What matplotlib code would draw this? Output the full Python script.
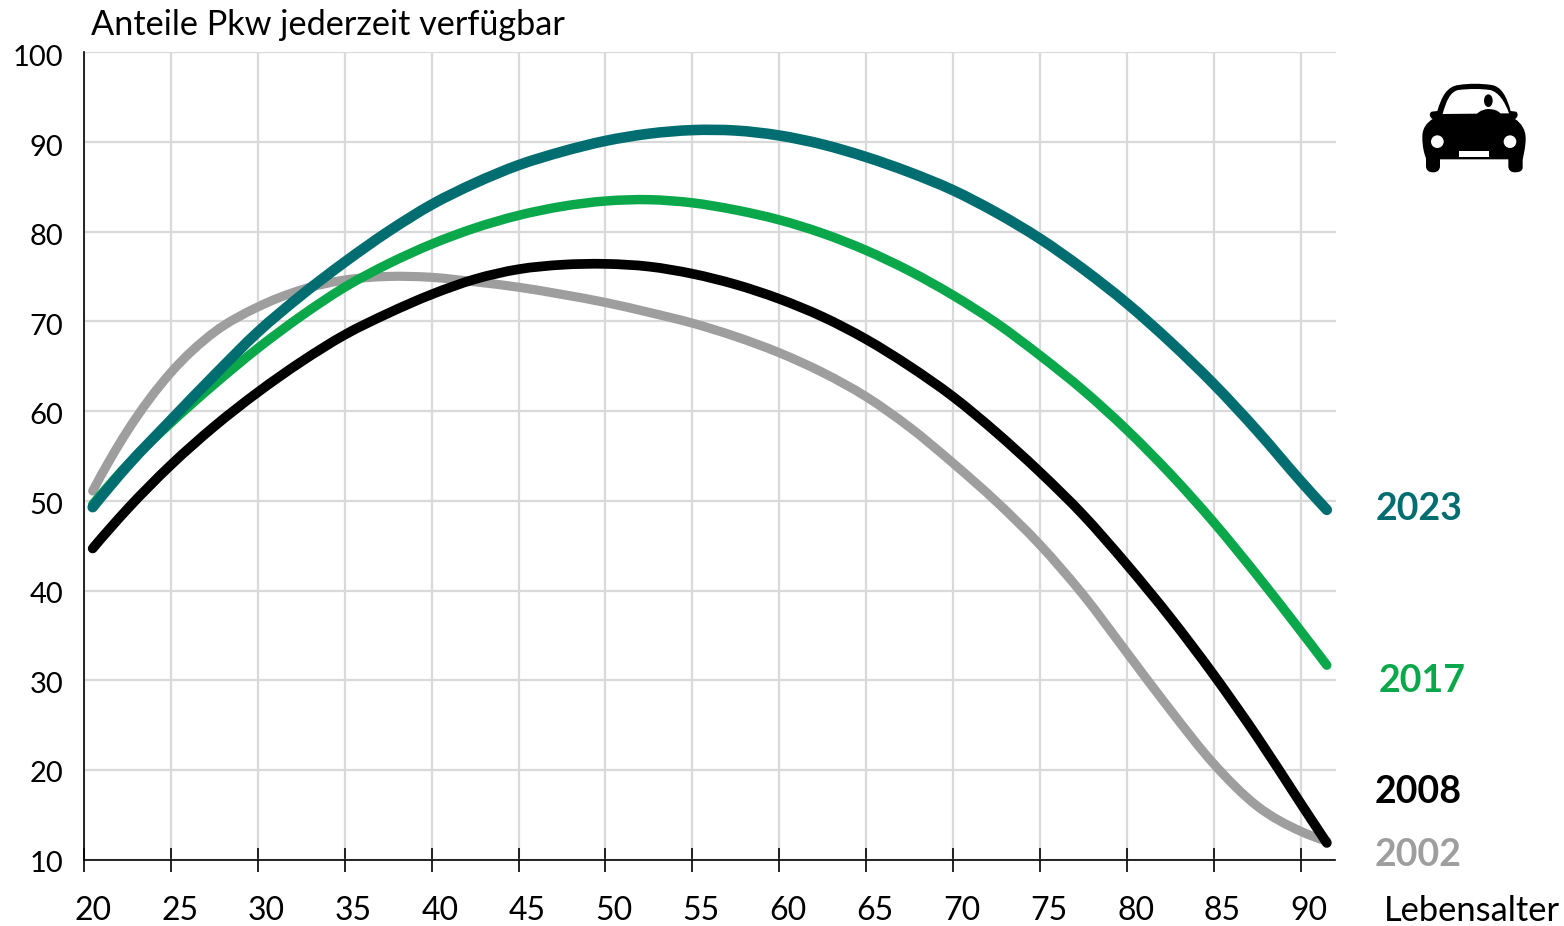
import matplotlib
matplotlib.use("Agg")
import matplotlib.pyplot as plt
from matplotlib.path import Path
from matplotlib.patches import PathPatch, Circle, Ellipse, Rectangle
from matplotlib.transforms import ScaledTranslation

plt.rcParams['font.family'] = ['Lato', 'DejaVu Sans']

# Positionen auf der Achse (Kategorie-Mitte, Alter + 0.5)
pos = [20.5, 22.5, 25, 27.5, 30, 32.5, 35, 37.5, 40, 42.5, 45, 47.5, 50, 52.5, 55,
       57.5, 60, 62.5, 65, 67.5, 70, 72.5, 75, 77.5, 80, 82.5, 85, 87.5, 90, 91.5]

y2002 = [51.1, 57.8, 64.3, 68.8, 71.6, 73.5, 74.6, 75.0, 74.9, 74.4, 73.8, 73.0, 72.1, 71.0, 69.8,
         68.3, 66.5, 64.3, 61.6, 58.2, 54.2, 49.9, 45.1, 39.5, 33.1, 26.7, 20.7, 16.0, 13.2, 12.1]
y2008 = [44.7, 49.1, 54.0, 58.3, 62.1, 65.5, 68.5, 70.9, 73.0, 74.7, 75.8, 76.3, 76.4, 76.1, 75.3,
         74.1, 72.5, 70.5, 68.0, 65.0, 61.6, 57.6, 53.2, 48.4, 42.9, 37.0, 30.6, 23.7, 16.3, 11.9]
y2017 = [49.6, 54.0, 58.7, 63.0, 67.0, 70.6, 73.8, 76.4, 78.6, 80.4, 81.8, 82.8, 83.4, 83.55, 83.2,
         82.4, 81.3, 79.8, 77.9, 75.6, 72.9, 69.8, 66.2, 62.3, 57.9, 53.0, 47.6, 41.7, 35.5, 31.7]
y2023 = [49.3, 53.9, 59.0, 64.0, 68.8, 72.9, 76.6, 80.0, 83.0, 85.4, 87.4, 88.9, 90.1, 90.9, 91.3,
         91.25, 90.7, 89.7, 88.3, 86.6, 84.6, 82.1, 79.2, 75.8, 72.0, 67.7, 63.0, 57.8, 52.2, 49.0]

x_ticks = list(range(20, 95, 5))[:15]
y_ticks = list(range(10, 110, 10))

W, H = 1564, 926
fig = plt.figure(figsize=(W / 100, H / 100), dpi=100, facecolor='white')
ax = fig.add_axes([84 / W, 1 - 860 / H, (1335.5 - 84) / W, (860 - 52) / H])
ax.set_xlim(20, 92)
ax.set_ylim(10, 100)

grau = '#9E9E9E'
gruen = '#0AA84A'
teal = '#006D70'


def glatte_linie(xs, ys):
    n = len(xs)
    m = [0.0] * n
    for i in range(1, n - 1):
        h0 = xs[i] - xs[i - 1]
        h1 = xs[i + 1] - xs[i]
        d0 = (ys[i] - ys[i - 1]) / h0
        d1 = (ys[i + 1] - ys[i]) / h1
        m[i] = (h1 * d0 + h0 * d1) / (h0 + h1)
    m[0] = 2 * (ys[1] - ys[0]) / (xs[1] - xs[0]) - m[1]
    m[-1] = 2 * (ys[-1] - ys[-2]) / (xs[-1] - xs[-2]) - m[-2]
    verts = [(xs[0], ys[0])]
    codes = [Path.MOVETO]
    for i in range(n - 1):
        h = xs[i + 1] - xs[i]
        verts += [(xs[i] + h / 3, ys[i] + m[i] * h / 3),
                  (xs[i + 1] - h / 3, ys[i + 1] - m[i + 1] * h / 3),
                  (xs[i + 1], ys[i + 1])]
        codes += [Path.CURVE4] * 3
    return Path(verts, codes)


for werte, farbe, breite, z in [(y2002, grau, 6.6, 3), (y2017, gruen, 6.8, 4),
                                (y2008, 'black', 7.0, 5), (y2023, teal, 7.6, 6)]:
    ax.add_patch(PathPatch(glatte_linie(pos, werte), fill=False, ec=farbe, lw=breite,
                           capstyle='round', joinstyle='round', zorder=z, clip_on=False))

for s in ['top', 'right']:
    ax.spines[s].set_visible(False)
for s in ['left', 'bottom']:
    ax.spines[s].set_linewidth(1.2)

ax.grid(True, color='#D9D9D9', lw=1.6, zorder=0)
ax.set_axisbelow(True)

ax.set_xticks(x_ticks)
ax.set_xticklabels([])
ax.tick_params(axis='x', which='major', direction='inout', length=17, width=1.2, color='black')
ax.set_xticks([t + 0.5 for t in x_ticks], minor=True)
ax.set_xticklabels([str(t) for t in x_ticks], minor=True, fontsize=23)
ax.tick_params(axis='x', which='minor', length=0, pad=26)

ax.set_yticks(y_ticks)
ax.set_yticklabels([str(t) for t in y_ticks], fontsize=21)
ax.tick_params(axis='y', length=0, pad=15)
# Beschriftung sitzt im Original etwas unter der Gitterlinie
for lab, t in zip(ax.get_yticklabels(), y_ticks):
    dy = -(1 + 3 * (t - 10) / 90) / 100
    lab.set_transform(lab.get_transform() + ScaledTranslation(0, dy, fig.dpi_scale_trans))


def text_px(x, y, s, **kw):
    fig.text(x / W, 1 - y / H, s, **kw)


text_px(91, 25, 'Anteile Pkw jederzeit verfügbar', fontsize=24.7, va='center', ha='left')
text_px(1384, 911, 'Lebensalter', fontsize=24.8, va='center', ha='left')

text_px(1376, 509, '2023', color=teal, fontsize=27, fontweight='bold', va='center')
text_px(1379, 681, '2017', color=gruen, fontsize=27, fontweight='bold', va='center')
text_px(1375, 792, '2008', color='black', fontsize=27, fontweight='bold', va='center')
text_px(1375, 855, '2002', color=grau, fontsize=27, fontweight='bold', va='center')

# Auto-Symbol oben rechts
icon = fig.add_axes([1380 / W, 1 - 190 / H, 184 / W, 130 / H])
icon.set_xlim(0, 552)
icon.set_ylim(390, 0)
icon.axis('off')

M, L, C, Z = Path.MOVETO, Path.LINETO, Path.CURVE4, Path.CLOSEPOLY
body = [
    (M, [(155, 155)]), (L, [(172, 153)]),
    (C, [(185, 110), (200, 80), (235, 75)]), (C, [(270, 70), (300, 70), (335, 75)]),
    (C, [(365, 80), (380, 110), (392, 153)]), (L, [(408, 155)]),
    (C, [(416, 160), (414, 172), (405, 177)]), (C, [(425, 190), (437, 210), (437, 235)]),
    (C, [(437, 265), (430, 285), (428, 300)]), (L, [(428, 322)]),
    (C, [(428, 332), (420, 337), (405, 337)]), (C, [(392, 337), (385, 330), (385, 318)]),
    (L, [(385, 298)]), (L, [(180, 298)]), (L, [(180, 318)]),
    (C, [(180, 330), (172, 337), (160, 337)]), (C, [(145, 337), (138, 330), (138, 318)]),
    (L, [(138, 295)]), (C, [(132, 280), (127, 260), (127, 230)]),
    (C, [(127, 205), (140, 188), (158, 177)]), (C, [(148, 172), (146, 160), (155, 155)]),
    (Z, [(155, 155)]),
]
window = [
    (M, [(188, 162)]), (C, [(198, 125), (210, 95), (235, 90)]),
    (C, [(270, 86), (300, 86), (330, 90)]), (C, [(355, 95), (375, 125), (387, 160)]),
    (Z, [(188, 162)]),
]
shoulders = [
    (M, [(290, 163)]), (C, [(300, 150), (315, 148), (325, 147)]),
    (C, [(340, 148), (355, 150), (362, 162)]), (Z, [(290, 163)]),
]


def make_path(segs):
    verts, codes = [], []
    for code, pts in segs:
        verts += pts
        codes += [code] * len(pts)
    return Path(verts, codes)


icon.add_patch(PathPatch(make_path(body), fc='black', ec='none'))
icon.add_patch(PathPatch(make_path(window), fc='white', ec='none'))
icon.add_patch(PathPatch(make_path(shoulders), fc='black', ec='none'))
icon.add_patch(Ellipse((325, 122), 26, 38, fc='black', ec='none'))
icon.add_patch(Circle((172, 245), 19, fc='white', ec='none'))
icon.add_patch(Circle((390, 245), 19, fc='white', ec='none'))
icon.add_patch(Rectangle((236, 272), 92, 18, fc='white', ec='none'))

fig.savefig('out.png', dpi=100, facecolor='white')
